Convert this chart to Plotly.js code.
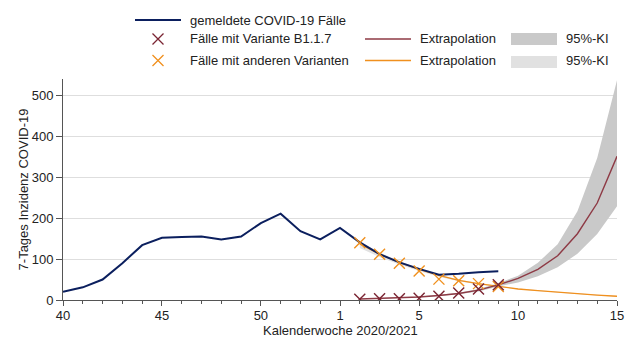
<!DOCTYPE html>
<html>
<head>
<meta charset="utf-8">
<script src="https://cdn.plot.ly/plotly-3.0.1.min.js"></script>
<style>html,body{margin:0;padding:0;background:#fff;}#chart{width:640px;height:353px;}</style>
</head>
<body>
<div id="chart"></div>
<script>
// ---- data ----
const reportedWeeks = [40,41,42,43,44,45,46,47,48,49,50,51,52,53,1,2,3,4,5,6,7,8,9];
const reportedCases = [20,31,50,90,134,152,154,155,148,155,188,211,168,148,176,141,112,92,76,62,64,68,70];

const sampleWeeks = [2,3,4,5,6,7,8,9];
const b117Cases = [2,3,3,4,9,17,27,37];
const otherCases = [140,112,90,71,51,47,40,33];

const extraWeeks = [2,3,4,5,6,7,8,9,10,11,12,13,14,15];
const b117Extra = [2.5,3.6,5.2,7.5,11,16,24,37,53,75,108,162,237,351];
const b117Upper = [3,4.2,6,8.5,12.5,18,27,41,59,91,136,217,347,537];
const b117Lower = [2,3,4.5,6.5,9.5,14,21,33,43,58,80,113,161,229];
const otherExtra = [137,112,92,75,60,48,40,33,27,23,19,15,12,9];
const otherUpper = [143,116,95,77,62,50,41,34,28,24,20,16,13,10];
const otherLower = [127,105,87,71,57,46,38,32,26,22,18,14,11,8];

const tickLabels = ['40','45','50','1','5','10','15'];
const yTicks = [0,100,200,300,400,500];
const xTitle = 'Kalenderwoche 2020/2021';
const yTitle = '7-Tages Inzidenz COVID-19';

// map calendar week (2020 has week 53) to a continuous position
const pos = w => (w >= 40 ? w - 40 : w + 13);
const X = arr => arr.map(pos);

const navy = '#0b1f5e', maroon = '#7a2432', maroonLine = '#8e3a45', orange = '#f0901e';
const band1 = '#c9c9c9', band2 = '#e1e1e1';

const traces = [
  {x: X(extraWeeks), y: otherUpper, mode:'lines', line:{width:0}, hoverinfo:'skip', showlegend:false},
  {x: X(extraWeeks), y: otherLower, mode:'lines', line:{width:0}, fill:'tonexty', fillcolor:band2, hoverinfo:'skip', showlegend:false},
  {x: X(extraWeeks), y: b117Upper, mode:'lines', line:{width:0}, hoverinfo:'skip', showlegend:false},
  {x: X(extraWeeks), y: b117Lower, mode:'lines', line:{width:0}, fill:'tonexty', fillcolor:band1, hoverinfo:'skip', showlegend:false},
  {x: X(extraWeeks), y: otherExtra, mode:'lines', line:{color:orange, width:1.4}, showlegend:false},
  {x: X(extraWeeks), y: b117Extra, mode:'lines', line:{color:maroonLine, width:1.4}, showlegend:false},
  {x: X(reportedWeeks), y: reportedCases, mode:'lines', line:{color:navy, width:2}, showlegend:false},
  {x: X(sampleWeeks), y: otherCases, mode:'markers', marker:{symbol:'x-thin', size:11, line:{color:orange, width:1.4}}, showlegend:false},
  {x: X(sampleWeeks), y: b117Cases, mode:'markers', marker:{symbol:'x-thin', size:11, line:{color:maroon, width:1.4}}, showlegend:false}
];

// ---- layout geometry ----
const W = 640, H = 353, mL = 63, mR = 23, mT = 79, mB = 53;
const pw = W - mL - mR, ph = H - mT - mB;
const px = v => (v - mL) / pw;
const py = v => (H - mB - v) / ph;

const font = {family:'Liberation Sans, Arial, sans-serif', size:13, color:'#222'};
const shapes = [], annotations = [];
const txt = (x, y, s, anchor) => annotations.push({xref:'paper', yref:'paper', x:px(x), y:py(y), text:s, showarrow:false, xanchor:anchor || 'left', yanchor:'middle', font:font});
const seg = (x1, x2, y, c, w) => shapes.push({type:'line', xref:'paper', yref:'paper', x0:px(x1), x1:px(x2), y0:py(y), y1:py(y), line:{color:c, width:w}});
const cross = (x, y, c) => shapes.push({type:'path', xref:'paper', yref:'paper', path:`M ${px(x-5.5)} ${py(y-5.5)} L ${px(x+5.5)} ${py(y+5.5)} M ${px(x-5.5)} ${py(y+5.5)} L ${px(x+5.5)} ${py(y-5.5)}`, line:{color:c, width:1.3}});
const rect = (x0, x1, y0, y1, c) => shapes.push({type:'rect', xref:'paper', yref:'paper', x0:px(x0), x1:px(x1), y0:py(y1), y1:py(y0), fillcolor:c, line:{width:0}});

const legendLabels = ['gemeldete COVID-19 Fälle','Fälle mit Variante B1.1.7','Fälle mit anderen Varianten','Extrapolation','95%-KI'];
seg(135, 181, 20, navy, 2); txt(188, 20, legendLabels[0]);
cross(158, 39, maroon); txt(188, 39, legendLabels[1]);
seg(365, 411, 39, maroonLine, 1.4); txt(418, 39, legendLabels[3]);
rect(511, 557, 33, 45, band1); txt(564, 39, legendLabels[4]);
cross(158, 60.5, orange); txt(188, 60.5, legendLabels[2]);
seg(365, 411, 60.5, orange, 1.4); txt(418, 60.5, legendLabels[3]);
rect(511, 557, 56, 68, band2); txt(564, 60.5, legendLabels[4]);

// x-axis title placed as annotation for exact vertical position
txt(340, 330, xTitle, 'center');

const layout = {
  width: W, height: H,
  margin: {l:mL, r:mR, t:mT, b:mB, pad:0},
  paper_bgcolor:'#fff', plot_bgcolor:'#fff',
  font: font,
  showlegend:false,
  xaxis: {
    range:[0, 28], tickmode:'array', tickvals: tickLabels.map(t => pos(+t)), ticktext: tickLabels,
    ticks:'outside', ticklen:5, tickcolor:'#555', showline:true, linecolor:'#555', linewidth:1,
    showgrid:false, zeroline:false, tickfont:font, ticklabelstandoff:-2,
    minor:{tickmode:'linear', tick0:0, dtick:1, ticks:'outside', ticklen:3, tickcolor:'#555', showgrid:false}
  },
  yaxis: {
    range:[0, 540], tickmode:'array', tickvals:yTicks,
    ticks:'outside', ticklen:6, tickcolor:'#555', showline:true, linecolor:'#555', linewidth:1,
    showgrid:true, gridcolor:'#dedede', gridwidth:1, zeroline:false, tickfont:font,
    title:{text:yTitle, font:font, standoff:0}
  },
  shapes: shapes,
  annotations: annotations
};

Plotly.newPlot('chart', traces, layout, {staticPlot:true, displayModeBar:false});
</script>
</body>
</html>
